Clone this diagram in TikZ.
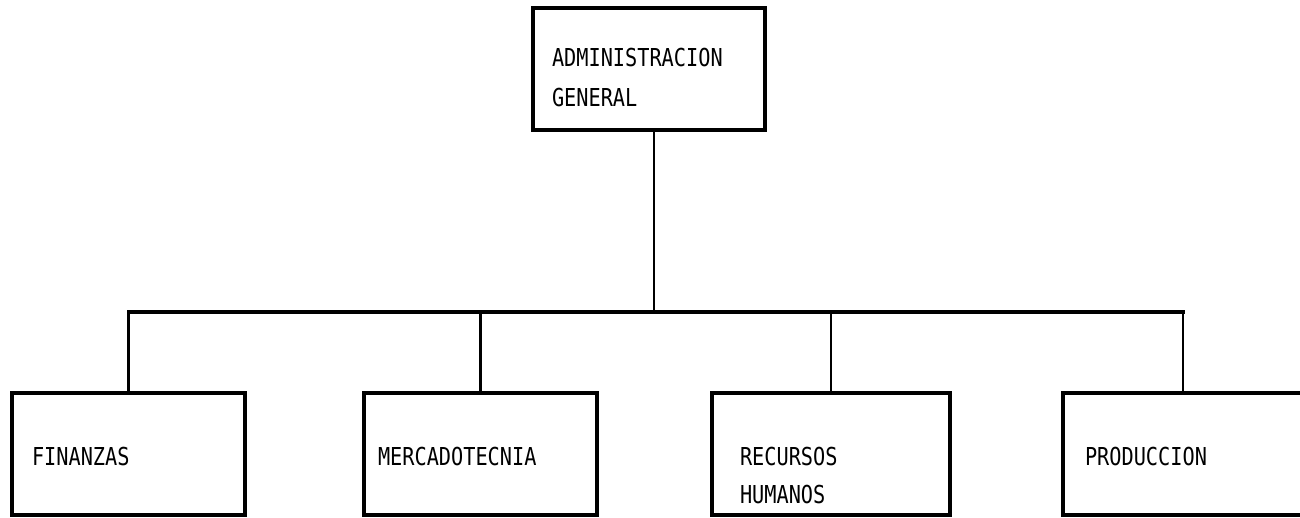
\documentclass[tikz,border=0pt]{standalone}
\usepackage{fontspec}
\newfontfamily\chartfont[FakeStretch=0.82]{DejaVu Sans Mono}
\begin{document}
\begin{tikzpicture}[x=1pt,y=-1pt,
  box/.style={draw, rectangle, line width=3.2pt, inner ysep=0pt, align=left,
    minimum height=122pt, font=\chartfont\fontsize{24.7}{40}\selectfont},
  one/.style={text height=22pt, text depth=0pt},
  link/.style={line width=2.8pt},
  bus/.style={line width=3.4pt}]
\useasboundingbox (0,0) rectangle (1300,517);
\fill[white] (0,0) rectangle (1300,517);
\clip (0,0) rectangle (1300,517);

\node[box, minimum width=232pt, inner xsep=19pt, text width=194pt,
      text height=20pt, text depth=26pt] (ag) at (649,69)
  {ADMINISTRACION\\GENERAL};

\node[box, one, minimum width=233pt, inner xsep=20pt, text width=193pt] (fin) at (128.5,454) {FINANZAS};
\node[box, one, minimum width=233pt, inner xsep=14pt, text width=205pt] (mer) at (480.5,454) {MERCADOTECNIA};
\node[box, minimum width=238pt, inner xsep=28pt, text width=182pt,
      font=\chartfont\fontsize{24.7}{38}\selectfont,
      text height=63pt, text depth=40pt] (rec) at (831,454) {RECURSOS\\HUMANOS};
\node[box, one, minimum width=240pt, inner xsep=22pt, text width=196pt] (pro) at (1183,454) {PRODUCCION};

\coordinate (trunk) at (654,312);
\draw[link] (ag.south -| trunk) -- (trunk);
\draw[link] (fin.north) -- (fin.north |- trunk);
\draw[link] (mer.north) -- (mer.north |- trunk);
\draw[link] (rec.north) -- (rec.north |- trunk);
\draw[link] (pro.north) -- (pro.north |- trunk);
\draw[bus, line cap=rect] (fin.north |- trunk) -- (pro.north |- trunk);
\end{tikzpicture}
\end{document}
